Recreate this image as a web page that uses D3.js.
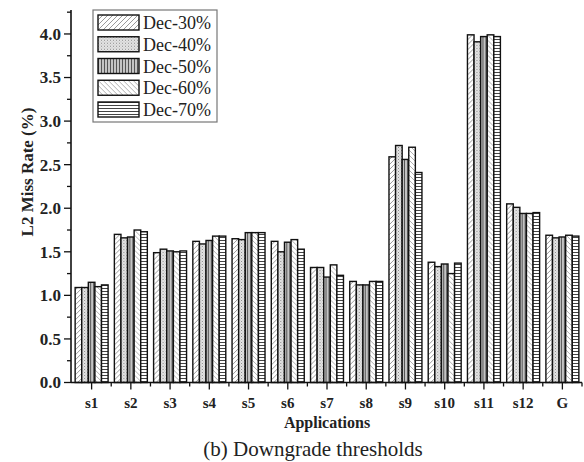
<!DOCTYPE html>
<html>
<head>
<meta charset="utf-8">
<script src="https://cdn.jsdelivr.net/npm/d3@7"></script>
<style>
  body { margin: 0; background: #fff; }
  text { font-family: 'Liberation Serif', 'Times New Roman', 'DejaVu Serif', serif; }
</style>
</head>
<body>
<script>
const apps = ['s1', 's2', 's3', 's4', 's5', 's6', 's7', 's8', 's9', 's10', 's11', 's12', 'G'];
const seriesNames = ['Dec-30%', 'Dec-40%', 'Dec-50%', 'Dec-60%', 'Dec-70%'];

const dec30 = [1.09, 1.70, 1.49, 1.62, 1.65, 1.62, 1.32, 1.16, 2.59, 1.38, 3.99, 2.05, 1.69];
const dec40 = [1.09, 1.66, 1.53, 1.59, 1.64, 1.50, 1.32, 1.12, 2.72, 1.33, 3.91, 2.01, 1.66];
const dec50 = [1.15, 1.67, 1.51, 1.63, 1.72, 1.61, 1.21, 1.12, 2.56, 1.36, 3.97, 1.94, 1.67];
const dec60 = [1.10, 1.75, 1.50, 1.68, 1.72, 1.64, 1.35, 1.16, 2.70, 1.25, 3.99, 1.94, 1.69];
const dec70 = [1.12, 1.73, 1.51, 1.68, 1.72, 1.53, 1.23, 1.16, 2.41, 1.37, 3.97, 1.95, 1.68];

const yTicks = [0, 0.5, 1.0, 1.5, 2.0, 2.5, 3.0, 3.5, 4.0];

const series = [dec30, dec40, dec50, dec60, dec70];

const width = 584;
const height = 462;
const margin = { top: 10, right: 2, bottom: 79, left: 71 };

const svg = d3.select('body').append('svg')
  .attr('width', width)
  .attr('height', height);

// hatch patterns, one per threshold
const defs = svg.append('defs');

const p30 = defs.append('pattern').attr('id', 'p0')
  .attr('patternUnits', 'userSpaceOnUse').attr('width', 5).attr('height', 5);
p30.append('rect').attr('width', 5).attr('height', 5).attr('fill', '#fff');
p30.append('path').attr('d', 'M-1,6 L6,-1 M-1,1 L1,-1 M4,6 L6,4')
  .attr('stroke', '#9a9a9a').attr('stroke-width', 1);

const p40 = defs.append('pattern').attr('id', 'p1')
  .attr('patternUnits', 'userSpaceOnUse').attr('width', 3).attr('height', 3);
p40.append('rect').attr('width', 3).attr('height', 3).attr('fill', '#e6e6e6');
p40.append('rect').attr('width', 1).attr('height', 1).attr('fill', '#888');
p40.append('rect').attr('x', 1.5).attr('y', 1.5).attr('width', 1).attr('height', 1).attr('fill', '#aaa');

const p50 = defs.append('pattern').attr('id', 'p2')
  .attr('patternUnits', 'userSpaceOnUse').attr('width', 3).attr('height', 3);
p50.append('rect').attr('width', 3).attr('height', 3).attr('fill', '#c4c4c4');
p50.append('rect').attr('width', 1).attr('height', 3).attr('fill', '#555');

const p60 = defs.append('pattern').attr('id', 'p3')
  .attr('patternUnits', 'userSpaceOnUse').attr('width', 5).attr('height', 5);
p60.append('rect').attr('width', 5).attr('height', 5).attr('fill', '#fff');
p60.append('path').attr('d', 'M-1,-1 L6,6 M4,-1 L6,1 M-1,4 L1,6')
  .attr('stroke', '#b0b0b0').attr('stroke-width', 1);

const p70 = defs.append('pattern').attr('id', 'p4')
  .attr('patternUnits', 'userSpaceOnUse').attr('width', 3).attr('height', 3);
p70.append('rect').attr('width', 3).attr('height', 3).attr('fill', '#fff');
p70.append('rect').attr('width', 3).attr('height', 1).attr('fill', '#444');

const x0 = d3.scaleBand()
  .domain(apps)
  .range([margin.left + 1, width - margin.right])
  .paddingInner(0.16)
  .paddingOuter(0.08);

const x1 = d3.scaleBand()
  .domain(d3.range(series.length))
  .range([0, x0.bandwidth()]);

const y = d3.scaleLinear()
  .domain([0, 4.275])
  .range([height - margin.bottom - 0.5, margin.top]);

const step = x0.step();

// bars
const groups = svg.append('g')
  .selectAll('g')
  .data(apps)
  .join('g')
  .attr('transform', d => `translate(${x0(d)},0)`);

groups.selectAll('rect')
  .data((d, i) => series.map((s, k) => ({ k, v: s[i] })))
  .join('rect')
  .attr('x', d => x1(d.k))
  .attr('y', d => y(d.v))
  .attr('width', x1.bandwidth())
  .attr('height', d => y(0) - y(d.v))
  .attr('fill', d => `url(#p${d.k})`)
  .attr('stroke', '#111')
  .attr('stroke-width', 1.4);

// y axis
const yAxis = svg.append('g')
  .attr('transform', `translate(${margin.left},0)`);

yAxis.append('line')
  .attr('y1', y(0)).attr('y2', margin.top)
  .attr('stroke', '#111').attr('stroke-width', 1.6);

yAxis.selectAll('.minor')
  .data(d3.range(0.25, 4.26, 0.5))
  .join('line')
  .attr('x1', -4).attr('x2', 0)
  .attr('y1', d => y(d)).attr('y2', d => y(d))
  .attr('stroke', '#111').attr('stroke-width', 1.3);

yAxis.selectAll('.major')
  .data(yTicks)
  .join('line')
  .attr('x1', -7).attr('x2', 0)
  .attr('y1', d => y(d)).attr('y2', d => y(d))
  .attr('stroke', '#111').attr('stroke-width', 1.3);

yAxis.selectAll('text')
  .data(yTicks)
  .join('text')
  .attr('x', -10)
  .attr('y', d => y(d))
  .attr('dy', '0.35em')
  .attr('text-anchor', 'end')
  .attr('font-size', 17)
  .attr('font-weight', 'bold')
  .attr('fill', '#222')
  .text(d => d.toFixed(1));

// x axis
const xAxis = svg.append('g')
  .attr('transform', `translate(0,${y(0)})`);

xAxis.append('line')
  .attr('x1', margin.left).attr('x2', width - margin.right)
  .attr('stroke', '#111').attr('stroke-width', 1.6);

xAxis.selectAll('.minor')
  .data(apps)
  .join('line')
  .attr('x1', d => x0(d) + x0.bandwidth() / 2 + step / 2)
  .attr('x2', d => x0(d) + x0.bandwidth() / 2 + step / 2)
  .attr('y1', 0).attr('y2', 4)
  .attr('stroke', '#111').attr('stroke-width', 1.3);

xAxis.selectAll('.major')
  .data(apps)
  .join('line')
  .attr('x1', d => x0(d) + x0.bandwidth() / 2)
  .attr('x2', d => x0(d) + x0.bandwidth() / 2)
  .attr('y1', 0).attr('y2', 7)
  .attr('stroke', '#111').attr('stroke-width', 1.3);

xAxis.selectAll('text')
  .data(apps)
  .join('text')
  .attr('x', d => x0(d) + x0.bandwidth() / 2)
  .attr('y', 25)
  .attr('text-anchor', 'middle')
  .attr('font-size', 15)
  .attr('font-weight', 'bold')
  .attr('fill', '#222')
  .text(d => d);

// titles
svg.append('text')
  .attr('transform', 'translate(33,172) rotate(-90)')
  .attr('text-anchor', 'middle')
  .attr('font-size', 17)
  .attr('font-weight', 'bold')
  .attr('fill', '#222')
  .text('L2 Miss Rate (%)');

svg.append('text')
  .attr('x', 327)
  .attr('y', 428)
  .attr('text-anchor', 'middle')
  .attr('font-size', 16)
  .attr('font-weight', 'bold')
  .attr('fill', '#222')
  .text('Applications');

svg.append('text')
  .attr('x', 313)
  .attr('y', 456)
  .attr('text-anchor', 'middle')
  .attr('font-size', 21)
  .attr('fill', '#222')
  .text('(b) Downgrade thresholds');

// legend
const legend = svg.append('g')
  .attr('transform', 'translate(93,10)');

legend.append('rect')
  .attr('width', 124).attr('height', 112)
  .attr('fill', '#fff')
  .attr('stroke', '#777').attr('stroke-width', 1.2);

const item = legend.selectAll('.item')
  .data(seriesNames)
  .join('g')
  .attr('transform', (d, i) => `translate(5,${5 + i * 21.75})`);

item.append('rect')
  .attr('width', 41).attr('height', 15)
  .attr('fill', (d, i) => `url(#p${i})`)
  .attr('stroke', '#111').attr('stroke-width', 1.4);

item.append('text')
  .attr('x', 45)
  .attr('y', 14)
  .attr('font-size', 18)
  .attr('fill', '#222')
  .text(d => d);
</script>
</body>
</html>
